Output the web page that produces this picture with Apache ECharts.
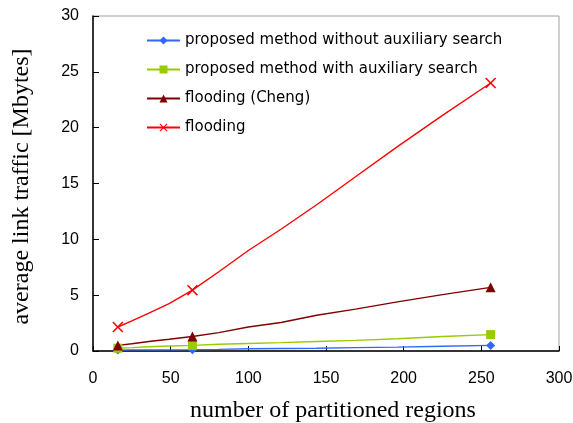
<!DOCTYPE html>
<html>
<head>
<meta charset="utf-8">
<script src="https://cdn.jsdelivr.net/npm/echarts@6/dist/echarts.min.js"></script>
<style>
  html, body { margin: 0; padding: 0; background: #fff; }
  #chart { width: 573px; height: 423px; }
</style>
</head>
<body>
<div id="chart"></div>
<script>
// Number of partitioned regions (x) at which traffic was measured
const regions = [16, 25, 36, 49, 64, 81, 100, 121, 144, 169, 196, 225, 256];
// Regions that carry a visible marker
const markedRegions = [16, 64, 256];

// Average link traffic [Mbytes]
const withoutAux = [0.08, 0.1, 0.1, 0.1, 0.12, 0.15, 0.2, 0.22, 0.25, 0.3, 0.35, 0.42, 0.5];
const withAux    = [0.25, 0.3, 0.38, 0.45, 0.5, 0.6, 0.67, 0.75, 0.85, 0.95, 1.1, 1.3, 1.47];
const floodCheng = [0.5, 0.65, 0.85, 1.05, 1.3, 1.65, 2.15, 2.55, 3.2, 3.75, 4.4, 5.05, 5.7];
const flooding   = [2.15, 2.7, 3.4, 4.25, 5.45, 7.1, 9.0, 10.9, 13.1, 15.6, 18.3, 21.1, 24.0];

const seriesNames = [
  'proposed method without auxiliary search',
  'proposed method with auxiliary search',
  'flooding (Cheng)',
  'flooding'
];

const xTicks = [0, 50, 100, 150, 200, 250, 300];
const yTicks = [0, 5, 10, 15, 20, 25, 30];

const crossPath = 'path://M0,1 L1,0 L5,4 L9,0 L10,1 L6,5 L10,9 L9,10 L5,6 L1,10 L0,9 L4,5 Z';

function points(values) {
  return regions.map((r, i) => {
    const item = { value: [r, values[i]] };
    if (markedRegions.indexOf(r) < 0) item.symbol = 'none';
    return item;
  });
}

function makeSeries(name, values, color, symbol, size) {
  return {
    name: name,
    type: 'line',
    data: points(values),
    symbol: symbol,
    symbolSize: size,
    showAllSymbol: true,
    clip: false,
    lineStyle: { color: color, width: 1.4 },
    itemStyle: { color: color },
    emphasis: { disabled: true },
    animation: false
  };
}

const chart = echarts.init(document.getElementById('chart'), null, { renderer: 'canvas' });

chart.setOption({
  backgroundColor: '#fff',
  animation: false,
  grid: {
    left: 93, right: 14, top: 16, bottom: 72,
    outerBoundsMode: 'none',
    containLabel: false,
    show: true, borderColor: '#a0a0a0', borderWidth: 1, backgroundColor: 'transparent'
  },
  legend: {
    orient: 'vertical',
    left: 141, top: 28,
    itemWidth: 33, itemHeight: 10,
    itemGap: 14,
    textStyle: { fontFamily: 'DejaVu Sans', fontSize: 15, color: '#000', lineHeight: 14 },
    data: seriesNames
  },
  xAxis: {
    type: 'value',
    min: xTicks[0], max: xTicks[xTicks.length - 1], interval: 50,
    name: 'number of partitioned regions',
    nameLocation: 'middle', nameGap: 48,
    nameTextStyle: { fontFamily: 'Liberation Serif', fontSize: 24, color: '#000', padding: [0, 0, 0, 14] },
    axisLine: { lineStyle: { color: '#000', width: 1.5 } },
    axisTick: { inside: true, length: 5, lineStyle: { color: '#000' } },
    axisLabel: { margin: 20, fontFamily: 'Liberation Sans', fontSize: 16, color: '#000' },
    splitLine: { show: false }
  },
  yAxis: {
    type: 'value',
    min: yTicks[0], max: yTicks[yTicks.length - 1], interval: 5,
    name: 'average link traffic [Mbytes]',
    nameLocation: 'middle', nameGap: 59,
    nameTextStyle: { fontFamily: 'Liberation Serif', fontSize: 24, color: '#000', padding: [0, 6, 0, 0] },
    axisLine: { lineStyle: { color: '#000', width: 1.5 } },
    axisTick: { inside: true, length: 6, lineStyle: { color: '#000' } },
    axisLabel: { margin: 14, fontFamily: 'Liberation Sans', fontSize: 16, color: '#000' },
    splitLine: { show: false }
  },
  series: [
    makeSeries(seriesNames[0], withoutAux, '#3366ff', 'diamond', 9),
    makeSeries(seriesNames[1], withAux, '#99cc00', 'rect', 9),
    makeSeries(seriesNames[2], floodCheng, '#800000', 'triangle', 10),
    makeSeries(seriesNames[3], flooding, '#ff0000', crossPath, 11)
  ]
});
</script>
</body>
</html>
